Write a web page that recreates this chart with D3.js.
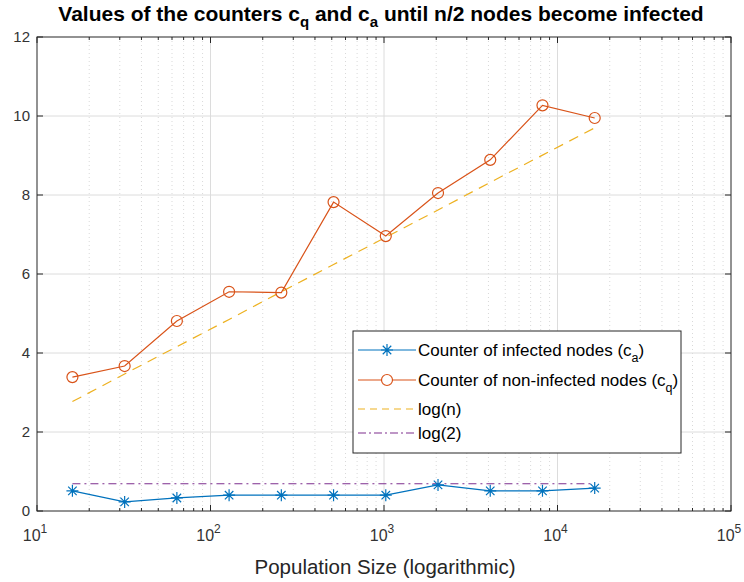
<!DOCTYPE html>
<html>
<head>
<meta charset="utf-8">
<script src="https://cdn.jsdelivr.net/npm/d3@7"></script>
<style>
  body { margin: 0; background: #fff; }
  text { font-family: "Liberation Sans", Arial, sans-serif; }
</style>
</head>
<body>
<div id="chart"></div>
<script>
var popSizes = [16, 32, 64, 128, 256, 512, 1024, 2048, 4096, 8192, 16384]
var infectedCounter = [0.51, 0.23, 0.33, 0.40, 0.40, 0.40, 0.40, 0.66, 0.51, 0.51, 0.58]
var nonInfectedCounter = [3.39, 3.67, 4.81, 5.55, 5.53, 7.82, 6.96, 8.05, 8.89, 10.27, 9.95]
var logN = [2.77, 3.47, 4.16, 4.85, 5.55, 6.24, 6.93, 7.62, 8.32, 9.01, 9.70]
var logTwo = 0.69
var xTicks = [10, 100, 1000, 10000, 100000]
var xTickExp = ['1', '2', '3', '4', '5']
var yTicks = [0, 2, 4, 6, 8, 10, 12]
var legendLabels = [
  ['Counter of infected nodes (c', 'a', ')'],
  ['Counter of non-infected nodes (c', 'q', ')'],
  ['log(n)', '', ''],
  ['log(2)', '', '']
]

var COLOR = { BLUE: '#0072BD', ORANGE: '#D95319', YELLOW: '#EDB120', PURPLE: '#7E2F8E', GRID: '#dcdcdc', AXIS: '#262626' }

var margin = { top: 37, bottom: 71, left: 37, right: 13 }
var width = 744 - margin.left - margin.right
var height = 582 - margin.top - margin.bottom

var svg = d3.select('#chart').append('svg')
  .attr('width', 744).attr('height', 582)
var g = svg.append('g')
  .attr('transform', 'translate(' + margin.left + ',' + margin.top + ')')

var x = d3.scaleLog().domain([10, 100000]).range([0, width])
var y = d3.scaleLinear().domain([0, 12]).range([height, 0])

// minor x values (2..9 of each decade)
var minorX = []
for (var d = 10; d < 100000; d *= 10) {
  for (var k = 2; k <= 9; k++) minorX.push(d * k)
}

// grid
g.selectAll('.minor-grid').data(minorX).enter().append('line')
  .attr('x1', d => x(d)).attr('x2', d => x(d))
  .attr('y1', 0).attr('y2', height)
  .attr('stroke', '#cfcfcf').attr('stroke-width', 0.8)
  .attr('stroke-dasharray', '1,3')
g.selectAll('.major-xgrid').data(xTicks.slice(1, -1)).enter().append('line')
  .attr('x1', d => x(d)).attr('x2', d => x(d))
  .attr('y1', 0).attr('y2', height)
  .attr('stroke', COLOR.GRID)
g.selectAll('.major-ygrid').data(yTicks.slice(1, -1)).enter().append('line')
  .attr('x1', 0).attr('x2', width)
  .attr('y1', d => y(d)).attr('y2', d => y(d))
  .attr('stroke', COLOR.GRID)

// ticks (inside, on all four sides)
var tickG = g.append('g').attr('stroke', COLOR.AXIS).attr('stroke-width', 1)
xTicks.forEach(function (t) {
  tickG.append('line').attr('x1', x(t)).attr('x2', x(t)).attr('y1', height).attr('y2', height - 6)
  tickG.append('line').attr('x1', x(t)).attr('x2', x(t)).attr('y1', 0).attr('y2', 6)
})
minorX.forEach(function (t) {
  tickG.append('line').attr('x1', x(t)).attr('x2', x(t)).attr('y1', height).attr('y2', height - 3)
  tickG.append('line').attr('x1', x(t)).attr('x2', x(t)).attr('y1', 0).attr('y2', 3)
})
yTicks.forEach(function (t) {
  tickG.append('line').attr('x1', 0).attr('x2', 6).attr('y1', y(t)).attr('y2', y(t))
  tickG.append('line').attr('x1', width).attr('x2', width - 6).attr('y1', y(t)).attr('y2', y(t))
})

// box
g.append('rect').attr('width', width).attr('height', height)
  .attr('fill', 'none').attr('stroke', COLOR.AXIS).attr('stroke-width', 1)

// tick labels
g.selectAll('.ylab').data(yTicks).enter().append('text')
  .attr('x', -7).attr('y', d => y(d) + 5)
  .attr('text-anchor', 'end').attr('font-size', '15px').attr('fill', '#333')
  .text(d => d)
var xl = g.selectAll('.xlab').data(xTicks).enter().append('text')
  .attr('x', d => x(d) - 2).attr('y', height + 30)
  .attr('text-anchor', 'middle').attr('font-size', '16px').attr('fill', '#333')
xl.append('tspan').text('10')
xl.append('tspan').attr('dy', -8).attr('font-size', '12px').text((d, i) => xTickExp[i])

// axis label
g.append('text')
  .attr('x', width / 2 + 1).attr('y', height + 63)
  .attr('text-anchor', 'middle').attr('font-size', '20.5px').attr('fill', '#262626')
  .text('Population Size (logarithmic)')

// title
var title = svg.append('text')
  .attr('x', 381).attr('y', 21)
  .attr('text-anchor', 'middle').attr('font-size', '21px').attr('font-weight', 'bold').attr('fill', '#000')
title.append('tspan').text('Values of the counters c')
title.append('tspan').attr('dy', 6).attr('font-size', '15px').text('q')
title.append('tspan').attr('dy', -6).text(' and c')
title.append('tspan').attr('dy', 6).attr('font-size', '15px').text('a')
title.append('tspan').attr('dy', -6).text(' until n/2 nodes become infected')

// series
var lineGen = d3.line().x((d, i) => x(popSizes[i])).y(d => y(d))

g.append('path').datum(logN).attr('d', lineGen)
  .attr('fill', 'none').attr('stroke', COLOR.YELLOW).attr('stroke-width', 1.2)
  .attr('stroke-dasharray', '10,7')

g.append('line')
  .attr('x1', x(popSizes[0])).attr('x2', x(popSizes[popSizes.length - 1]))
  .attr('y1', y(logTwo)).attr('y2', y(logTwo))
  .attr('stroke', COLOR.PURPLE).attr('stroke-width', 1.2)
  .attr('stroke-dasharray', '8,4,2,4')

g.append('path').datum(nonInfectedCounter).attr('d', lineGen)
  .attr('fill', 'none').attr('stroke', COLOR.ORANGE).attr('stroke-width', 1.2)
g.selectAll('.cq-dot').data(nonInfectedCounter).enter().append('circle')
  .attr('cx', (d, i) => x(popSizes[i])).attr('cy', d => y(d)).attr('r', 5.5)
  .attr('fill', 'none').attr('stroke', COLOR.ORANGE).attr('stroke-width', 1.2)

function starPath(r) {
  var q = r * 0.7071
  return 'M0,' + (-r) + 'V' + r + 'M' + (-r) + ',0H' + r +
    'M' + (-q) + ',' + (-q) + 'L' + q + ',' + q + 'M' + (-q) + ',' + q + 'L' + q + ',' + (-q)
}

g.append('path').datum(infectedCounter).attr('d', lineGen)
  .attr('fill', 'none').attr('stroke', COLOR.BLUE).attr('stroke-width', 1.2)
g.selectAll('.ca-dot').data(infectedCounter).enter().append('path')
  .attr('transform', (d, i) => 'translate(' + x(popSizes[i]) + ',' + y(d) + ')')
  .attr('d', starPath(6))
  .attr('fill', 'none').attr('stroke', COLOR.BLUE).attr('stroke-width', 1.2)

// legend
var leg = svg.append('g').attr('transform', 'translate(353,331)')
leg.append('rect').attr('width', 328).attr('height', 122)
  .attr('fill', '#fff').attr('stroke', COLOR.AXIS).attr('stroke-width', 1)
var legY = [19, 49, 78, 102]
var legStyles = [
  { c: COLOR.BLUE, dash: null, mark: 'star' },
  { c: COLOR.ORANGE, dash: null, mark: 'circle' },
  { c: COLOR.YELLOW, dash: '7,5', mark: null },
  { c: COLOR.PURPLE, dash: '8,3,2,3', mark: null }
]
legendLabels.forEach(function (lab, i) {
  var st = legStyles[i]
  leg.append('line').attr('x1', 5).attr('x2', 63).attr('y1', legY[i]).attr('y2', legY[i])
    .attr('stroke', st.c).attr('stroke-width', 1.2).attr('stroke-dasharray', st.dash)
  if (st.mark === 'star') {
    leg.append('path').attr('transform', 'translate(34,' + legY[i] + ')').attr('d', starPath(6))
      .attr('fill', 'none').attr('stroke', st.c).attr('stroke-width', 1.2)
  } else if (st.mark === 'circle') {
    leg.append('circle').attr('cx', 34).attr('cy', legY[i]).attr('r', 5.5)
      .attr('fill', '#fff').attr('stroke', st.c).attr('stroke-width', 1.2)
  }
  var t = leg.append('text').attr('x', 65).attr('y', legY[i] + 6)
    .attr('font-size', '17px').attr('fill', '#000')
  t.append('tspan').text(lab[0])
  if (lab[1]) {
    t.append('tspan').attr('dy', 6).attr('font-size', '12.5px').text(lab[1])
    t.append('tspan').attr('dy', -6).text(lab[2])
  }
})
</script>
</body>
</html>
